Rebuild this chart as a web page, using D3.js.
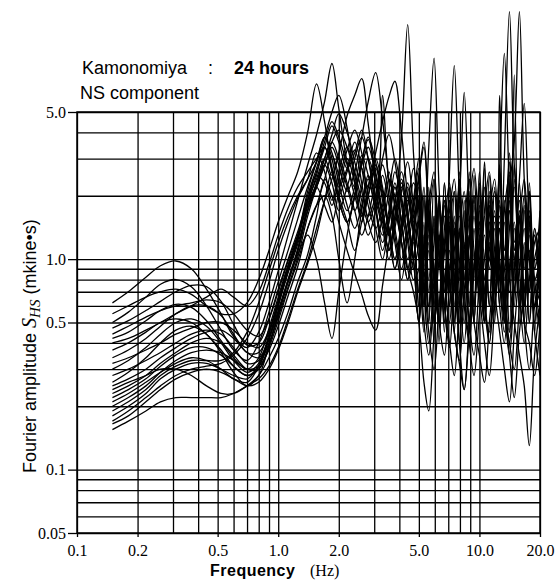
<!DOCTYPE html>
<html lang="en">
<head>
    <meta charset="UTF-8">
    <title>Kamonomiya : 24 hours</title>
    <script src="https://d3js.org/d3.v7.min.js"></script>
    <style>
        body {
            margin: 0;
            background-color: #fff;
        }
        svg {
            display: block;
        }
        .serif {
            font-family: "Liberation Serif", "DejaVu Serif", serif;
        }
        .sans {
            font-family: "Liberation Sans", Arial, sans-serif;
        }
        .axis path.domain {
            display: none;
        }
    </style>
</head>
<body>
    <svg id="chart" width="556" height="585"></svg>
    <script>
        // frequency points (Hz) shared by every hourly spectrum
        const freqs = [0.15, 0.18, 0.22, 0.26, 0.31, 0.37, 0.44, 0.52, 0.6, 0.7, 0.8, 0.9, 1.0, 1.12, 1.25,
            1.4, 1.55, 1.7, 1.85, 2.0, 2.2, 2.4, 2.6, 2.8, 3.05, 3.3, 3.55, 3.8, 4.1, 4.4, 4.7,
            5.0, 5.3, 5.6, 5.95, 6.3, 6.7, 7.1, 7.5, 7.95, 8.4, 8.9, 9.4, 10.0, 10.6, 11.2, 11.9,
            12.6, 13.3, 14.1, 14.9, 15.8, 16.7, 17.7, 18.8, 20.0];

        // Fourier amplitude (mkine*s), one row per hour
        const hourAmps = [
            [0.62,0.70,0.82,0.93,0.98,0.90,0.72,0.55,0.43,0.38,0.45,0.62,0.88,1.30,1.90, 2.8,3.9,5.6,8.5,5.2,2.9,2.2,2.8,3.4,2.5,1.6,1.3,1.9,2.6,1.7,1.0, 1.5,0.6,2.2,0.8,1.9,0.7,1.4,0.5,1.8,0.9,2.6,1.0,1.7,0.6,2.0,0.8,2.4,1.1,3.2,1.2,1.9,0.7,1.5,0.6,0.9],
            [0.55,0.60,0.66,0.70,0.72,0.68,0.60,0.55,0.55,0.62,0.80,1.10,1.50,2.00,2.60, 4.0,6.8,4.5,2.7,2.0,2.6,3.3,2.3,1.5,1.2,1.6,2.4,1.8,1.2,0.8,1.2, 0.7,1.9,0.6,1.4,0.5,2.3,0.9,1.6,0.6,1.2,0.45,1.8,0.8,2.2,0.9,1.5,0.6,1.9,0.8,2.8,1.2,2.0,0.7,1.3,0.6],
            [0.50,0.56,0.66,0.76,0.80,0.74,0.60,0.46,0.37,0.33,0.40,0.56,0.78,1.10,1.55, 2.2,2.9,3.8,5.0,6.0,4.2,2.3,1.5,2.0,2.8,2.1,1.3,0.9,1.4,2.2,1.5, 2.2,0.9,1.7,0.5,1.3,0.45,1.9,0.7,2.4,0.8,1.5,0.5,2.6,1.0,1.8,0.6,1.4,0.5,2.2,0.9,1.6,0.6,2.1,0.8,1.0],
            [0.47,0.51,0.57,0.63,0.70,0.75,0.74,0.63,0.49,0.39,0.40,0.52,0.72,1.00,1.35, 1.9,2.4,3.0,2.5,3.2,4.8,6.0,7.2,4.4,2.3,1.5,2.1,3.0,2.0,1.2,0.8, 0.9,2.0,0.7,1.5,0.4,1.2,0.6,2.1,0.8,1.7,0.6,2.0,0.9,2.9,1.0,0.9,6.0,0.9,0.7,2.4,0.9,1.8,0.5,1.2,1.4],
            [0.44,0.48,0.53,0.57,0.60,0.62,0.64,0.62,0.55,0.46,0.43,0.52,0.70,0.98,1.30, 1.8,2.2,2.8,3.4,2.8,2.1,2.6,3.8,5.6,7.7,4.6,2.3,1.4,1.0,1.5,2.3, 1.8,0.6,1.2,0.4,2.0,0.8,1.5,0.5,2.6,1.0,1.9,0.6,1.3,0.5,2.1,0.8,2.8,1.1,1.7,0.6,1.3,0.5,2.3,0.9,1.2],
            [0.42,0.45,0.51,0.57,0.61,0.59,0.51,0.41,0.34,0.30,0.34,0.47,0.66,0.94,1.28, 1.8,2.2,1.8,1.5,2.1,3.0,2.3,1.6,2.2,3.2,4.5,5.9,7.0,4.0,2.0,1.4, 0.6,1.5,0.5,2.4,0.9,1.8,0.6,1.4,0.4,1.1,0.6,2.5,1.0,1.6,0.6,2.2,0.8,1.5,0.45,7.5,0.5,1.7,0.7,1.4,0.8],
            [0.40,0.42,0.46,0.50,0.55,0.60,0.66,0.72,0.66,0.60,0.70,0.95,1.30,1.75,2.20, 2.6,3.0,3.4,2.6,1.9,1.5,2.0,2.9,3.7,2.6,1.7,1.3,1.8,3.8,13.0,3.2, 1.4,0.6,1.1,0.5,2.0,0.7,1.6,0.45,1.3,0.8,2.4,0.9,1.5,0.6,1.2,0.5,1.8,0.8,2.6,1.0,1.6,0.6,1.3,0.5,1.5],
            [0.37,0.40,0.45,0.50,0.52,0.50,0.44,0.37,0.31,0.28,0.31,0.42,0.60,0.86,1.18, 1.7,2.2,2.8,3.6,4.1,3.4,2.5,1.7,1.3,1.7,2.5,1.8,1.2,0.8,1.3,1.9, 3.0,1.1,3.4,9.0,2.2,0.8,1.4,0.6,2.1,0.7,1.3,0.5,1.8,0.7,2.5,0.9,1.4,0.5,1.9,0.7,1.2,0.5,2.0,0.7,1.0],
            [0.34,0.37,0.42,0.48,0.55,0.60,0.60,0.54,0.44,0.36,0.36,0.45,0.62,0.90,1.25, 1.9,2.6,3.4,4.3,3.6,2.7,3.2,4.1,3.0,1.8,1.2,1.6,2.3,1.5,0.9,1.3, 1.9,0.7,1.4,0.5,1.7,0.6,2.6,8.3,2.0,0.8,1.3,0.5,2.2,0.8,1.5,0.6,1.9,0.9,2.9,1.1,1.7,0.6,1.4,0.5,1.2],
            [0.32,0.34,0.37,0.40,0.44,0.47,0.50,0.50,0.46,0.40,0.38,0.46,0.64,0.92,1.28, 2.1,2.9,3.8,3.2,2.3,1.7,2.2,3.1,2.5,1.7,1.3,1.7,2.6,1.9,1.3,0.9, 1.2,2.2,0.8,1.6,0.5,1.9,0.7,1.3,2.0,6.2,1.6,0.6,1.2,0.5,1.9,0.7,1.4,0.6,1.7,0.8,2.3,0.9,1.6,0.6,0.7],
            [0.30,0.33,0.38,0.44,0.50,0.52,0.48,0.40,0.33,0.29,0.32,0.44,0.62,0.90,1.26, 2.0,2.7,3.6,4.5,3.8,2.8,2.0,1.6,2.2,3.0,2.2,1.4,0.9,1.3,2.0,1.4, 0.7,1.3,0.5,1.6,0.6,2.3,0.9,1.5,0.5,1.9,0.8,1.4,0.6,2.7,1.0,1.7,0.7,3.0,15.0,2.8,1.3,0.6,1.1,0.45,1.6],
            [0.28,0.30,0.33,0.36,0.40,0.44,0.46,0.44,0.38,0.32,0.33,0.42,0.57,0.80,1.10, 1.7,2.3,3.0,3.9,4.9,4.0,2.9,2.1,1.6,2.0,2.8,2.0,1.3,0.9,1.3,1.8, 2.7,1.0,1.6,0.6,1.2,0.5,2.2,0.8,1.4,0.6,2.1,0.8,1.5,0.5,1.8,0.9,2.6,1.0,2.2,3.6,15.0,2.4,1.0,0.6,1.2],
            [0.26,0.29,0.34,0.40,0.46,0.48,0.44,0.36,0.29,0.25,0.28,0.39,0.55,0.80,1.12, 1.8,2.5,3.4,2.7,1.9,1.5,2.0,2.9,3.8,2.9,1.9,1.4,1.0,1.5,2.3,1.6, 1.0,0.45,1.3,0.6,1.8,0.5,1.1,0.7,2.4,0.9,1.6,0.6,2.3,0.8,1.3,0.6,2.6,9.5,2.2,1.0,1.6,0.6,2.1,0.8,0.9],
            [0.25,0.27,0.30,0.34,0.38,0.42,0.45,0.46,0.42,0.36,0.34,0.42,0.56,0.78,1.05, 1.30,1.00,0.62,0.42,0.70,1.30,2.00,2.7,2.0,1.4,1.0,1.5,2.2,1.5,0.9,0.7, 0.5,0.26,0.19,0.45,1.0,1.6,0.8,0.45,0.33,0.7,1.2,1.9,0.9,0.5,1.1,1.6,0.8,0.45,0.9,1.5,0.7,0.4,0.8,1.3,0.6],
            [0.24,0.26,0.28,0.30,0.30,0.28,0.25,0.23,0.23,0.25,0.28,0.34,0.42,0.56,0.78, 1.05,1.6,2.4,2.0,1.5,1.1,0.85,0.68,0.54,0.46,0.75,1.2,1.8,1.2,0.8,1.0, 1.6,0.8,0.45,0.3,0.6,1.1,1.7,0.8,0.4,0.24,0.45,0.9,1.5,0.7,0.4,0.9,1.4,0.6,0.35,0.7,1.2,0.5,0.3,0.6,0.8],
            [0.23,0.25,0.28,0.32,0.36,0.40,0.42,0.40,0.35,0.30,0.30,0.38,0.51,0.72,0.98, 1.4,1.8,2.0,1.6,1.0,0.62,1.0,1.7,2.4,1.7,1.1,1.5,2.2,1.5,1.0,1.3, 2.0,0.9,0.6,1.2,1.8,0.8,0.5,1.1,1.6,0.7,0.4,0.28,0.55,1.0,1.5,0.7,0.45,0.3,0.21,0.45,0.9,1.4,0.7,1.4,0.9],
            [0.22,0.24,0.27,0.31,0.35,0.38,0.38,0.35,0.31,0.28,0.30,0.39,0.54,0.78,1.08, 1.7,2.3,3.0,3.6,3.0,2.2,1.7,2.2,3.0,2.3,1.6,1.1,1.6,2.3,1.6,1.0, 0.5,1.0,1.6,0.8,0.5,0.35,0.8,1.4,0.7,0.4,0.9,1.6,0.7,0.4,0.28,0.6,1.1,1.7,0.8,0.5,0.35,0.25,0.13,0.35,0.6],
            [0.21,0.23,0.26,0.29,0.32,0.34,0.33,0.30,0.27,0.26,0.31,0.42,0.60,0.88,1.22, 1.9,2.5,2.3,1.8,2.4,3.3,4.1,3.2,2.2,2.2,6.0,2.4,2.0,1.4,1.8,2.7, 1.7,0.7,1.5,2.4,1.0,0.6,1.4,2.1,0.9,0.5,1.2,2.0,0.9,0.5,1.3,2.1,0.9,0.5,1.4,2.2,0.9,0.5,0.4,0.28,0.5],
            [0.20,0.22,0.25,0.29,0.33,0.36,0.37,0.36,0.33,0.30,0.31,0.37,0.48,0.67,0.92, 1.4,1.8,2.4,3.1,2.5,1.8,1.4,1.8,2.5,1.9,1.4,1.0,1.4,2.1,2.9,1.8, 1.2,0.5,0.35,0.7,1.2,1.9,0.8,0.45,0.32,0.24,0.5,0.9,1.4,0.6,0.4,0.8,1.5,0.7,0.4,0.9,1.6,0.7,1.7,0.8,0.5],
            [0.19,0.21,0.24,0.28,0.31,0.33,0.33,0.33,0.36,0.45,0.62,0.88,1.20,1.60,2.00, 2.4,2.9,3.8,3.0,2.2,2.7,3.6,2.7,1.8,1.4,1.8,2.6,1.8,1.2,0.9,1.4, 2.4,3.4,1.5,0.8,0.5,1.2,1.9,0.8,0.5,1.1,1.8,2.7,1.2,0.6,0.45,1.0,1.6,0.7,0.45,0.9,1.5,2.4,1.0,0.6,1.1],
            [0.18,0.20,0.23,0.27,0.30,0.32,0.32,0.30,0.28,0.27,0.31,0.40,0.53,0.74,1.02, 1.6,2.2,2.8,2.3,1.7,2.2,3.0,3.8,3.0,2.0,1.5,1.1,1.6,2.4,1.6,1.0, 0.5,1.1,1.8,2.6,1.1,0.6,0.4,0.28,0.6,1.1,0.5,0.35,0.8,1.3,0.6,1.4,0.6,0.4,0.9,1.4,0.6,1.2,0.5,1.0,1.3],
            [0.17,0.19,0.22,0.25,0.28,0.30,0.31,0.32,0.35,0.42,0.55,0.78,1.10,1.50,1.95, 2.4,3.2,2.6,1.9,2.6,3.4,2.6,1.9,1.5,1.9,3.0,3.9,2.9,1.8,1.2,1.7, 2.5,3.6,1.7,0.9,0.6,1.4,2.3,1.0,0.6,1.4,2.4,1.1,0.7,1.7,2.6,1.1,0.7,1.7,2.5,1.1,2.4,5.5,1.5,0.9,1.7],
            [0.165,0.18,0.21,0.24,0.27,0.29,0.30,0.29,0.27,0.25,0.26,0.30,0.37,0.50,0.70, 0.95,1.3,1.9,2.6,2.0,1.5,1.1,1.5,2.0,2.7,2.0,1.4,1.0,1.4,1.9,1.3, 0.6,1.2,1.9,0.8,0.5,1.1,1.7,2.4,1.0,0.6,0.4,0.9,1.5,0.7,1.6,2.4,1.0,0.6,0.4,0.3,0.6,1.0,1.6,0.7,0.45],
            [0.155,0.17,0.19,0.21,0.22,0.22,0.22,0.22,0.23,0.25,0.27,0.31,0.38,0.52,0.72, 0.98,1.4,1.9,2.4,3.0,2.3,1.7,1.3,1.6,2.2,1.6,1.1,1.5,2.2,1.5,1.0, 1.5,0.7,0.4,0.8,1.3,0.6,0.38,0.8,1.3,2.1,0.9,0.5,0.35,0.26,0.5,0.9,1.4,0.6,0.35,0.22,0.45,0.7,1.1,0.45,0.28]
        ];

        // grid lines and tick labels
        const gridX = [0.1, 0.2, 0.3, 0.4, 0.5, 0.6, 0.7, 0.8, 0.9, 1, 2, 3, 4, 5, 6, 7, 8, 9, 10, 20];
        const gridY = [0.05, 0.06, 0.07, 0.08, 0.09, 0.1, 0.2, 0.3, 0.4, 0.5, 0.6, 0.7, 0.8, 0.9, 1, 2, 3, 4, 5];
        const xTickValues = [0.1, 0.2, 0.5, 1, 2, 5, 10, 20];
        const xTickLabels = ["0.1", "0.2", "0.5", "1.0", "2.0", "5.0", "10.0", "20.0"];
        const yTickValues = [0.05, 0.1, 0.5, 1, 5];
        const yTickLabels = ["0.05", "0.1", "0.5", "1.0", "5.0"];

        const svg = d3.select("#chart");
        const plotLeft = 77, plotRight = 540, plotTop = 112, plotBottom = 533;

        const x = d3.scaleLog().domain([0.1, 20]).range([plotLeft, plotRight]);
        const y = d3.scaleLog().domain([0.05, 5]).range([plotBottom, plotTop]);

        // vertical grid
        svg.append("g")
            .attr("class", "axis")
            .attr("transform", `translate(0,${plotBottom})`)
            .call(d3.axisBottom(x).tickValues(gridX).tickSize(-(plotBottom - plotTop)).tickSizeOuter(0).tickFormat(""))
            .selectAll("line").attr("stroke", "#000").attr("stroke-width", 1.3);

        // horizontal grid
        svg.append("g")
            .attr("class", "axis")
            .attr("transform", `translate(${plotLeft},0)`)
            .call(d3.axisLeft(y).tickValues(gridY).tickSize(-(plotRight - plotLeft)).tickSizeOuter(0).tickFormat(""))
            .selectAll("line").attr("stroke", "#000").attr("stroke-width", 1.3);

        // labelled ticks
        const xAxis = svg.append("g")
            .attr("class", "axis serif")
            .attr("transform", `translate(0,${plotBottom})`)
            .call(d3.axisBottom(x).tickValues(xTickValues).tickSize(4).tickPadding(8)
                .tickFormat((d, i) => xTickLabels[i]));
        xAxis.selectAll("line").attr("stroke", "#000").attr("stroke-width", 1.3);
        xAxis.selectAll("text").attr("fill", "#000").style("font-size", "16px")
            .style("font-family", '"Liberation Serif", serif');

        const yAxis = svg.append("g")
            .attr("class", "axis serif")
            .attr("transform", `translate(${plotLeft},0)`)
            .call(d3.axisLeft(y).tickValues(yTickValues).tickSize(9).tickPadding(2)
                .tickFormat((d, i) => yTickLabels[i]));
        yAxis.selectAll("line").attr("stroke", "#000").attr("stroke-width", 1.3);
        yAxis.selectAll("text").attr("fill", "#000").style("font-size", "16px")
            .style("font-family", '"Liberation Serif", serif');

        // frame
        svg.append("rect")
            .attr("x", plotLeft).attr("y", plotTop)
            .attr("width", plotRight - plotLeft).attr("height", plotBottom - plotTop)
            .attr("fill", "none").attr("stroke", "#000").attr("stroke-width", 1.5);

        // hourly spectra
        const line = d3.line()
            .x(d => x(d[0]))
            .y(d => y(d[1]))
            .curve(d3.curveCatmullRom.alpha(0.5));

        svg.append("g")
            .selectAll("path")
            .data(hourAmps)
            .join("path")
            .attr("d", amps => line(freqs.map((f, i) => [f, amps[i]]).filter(p => p[1] !== undefined)))
            .attr("fill", "none")
            .attr("stroke", "#000")
            .attr("stroke-width", 1.3);

        // titles
        const title = svg.append("text").attr("class", "sans").attr("y", 74).style("font-size", "18px");
        title.append("tspan").attr("x", 82).text("Kamonomiya");
        title.append("tspan").attr("x", 208).text(":");
        title.append("tspan").attr("x", 234).style("font-weight", "bold").text("24 hours");

        svg.append("text").attr("class", "sans")
            .attr("x", 80).attr("y", 99)
            .style("font-size", "18px")
            .text("NS component");

        // x axis title
        const xt = svg.append("text").attr("y", 576);
        xt.append("tspan").attr("x", 210).attr("class", "sans")
            .style("font-size", "16px").style("font-weight", "bold")
            .style("letter-spacing", "0.5px").text("Frequency");
        xt.append("tspan").attr("x", 310).attr("class", "serif")
            .style("font-size", "16px").text("(Hz)");

        // y axis title
        const yt = svg.append("text")
            .attr("transform", "translate(36,473) rotate(-90)")
            .attr("class", "sans")
            .style("font-size", "18px");
        yt.append("tspan").text("Fourier amplitude ");
        yt.append("tspan").attr("class", "serif").style("font-style", "italic")
            .style("font-size", "20px").text("S");
        yt.append("tspan").attr("class", "serif").style("font-style", "italic")
            .style("font-size", "15px").attr("dy", 4).text("HS");
        yt.append("tspan").attr("dy", -4).text(" (mkine•s)");
    </script>
</body>
</html>
